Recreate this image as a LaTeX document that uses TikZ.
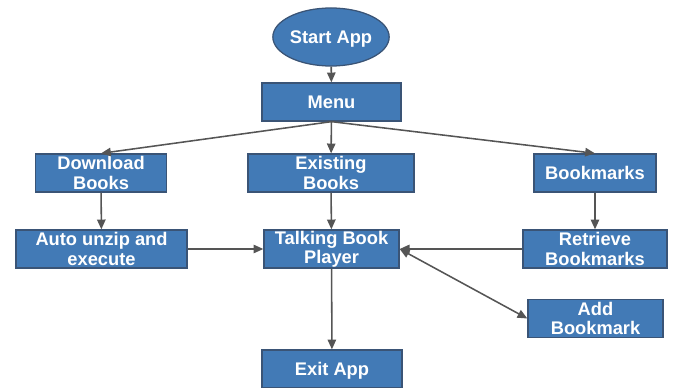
\documentclass[tikz,border=0pt]{standalone}
\usepackage{fontspec}
\setmainfont{Liberation Sans}
\usepackage{tikz}
\usetikzlibrary{shapes.geometric,arrows.meta,positioning}
\definecolor{boxblue}{RGB}{66,122,182}
\definecolor{boxline}{RGB}{58,84,118}
\definecolor{arrowgray}{RGB}{85,85,85}

\begin{document}
\begin{tikzpicture}[
    x=0.025cm, y=-0.025cm,
    box/.style={rectangle, draw=boxline, fill=boxblue, line width=0.9pt, minimum height=0.95cm,
        inner sep=0pt, align=center, text=white, font=\fontsize{13}{13.6}\selectfont\bfseries},
    oneline/.style={text depth=0pt},
    startbox/.style={ellipse, draw=boxline, fill=boxblue, line width=0.9pt, minimum width=2.85cm,
        minimum height=1.45cm, inner sep=0pt, text depth=0pt, text=white, font=\fontsize{13}{13.6}\selectfont\bfseries},
    arrow/.style={-{Triangle[length=7pt,width=6pt]}, draw=arrowgray, line width=1.1pt}
]
    \useasboundingbox (0,0) rectangle (675,387);

    % Top
    \node[startbox] (start) at (331,37) {Start App};
    \node[box, oneline, minimum width=3.475cm] (menu) at (331.5,102) {Menu};

    % Second row
    \node[box, minimum width=3.275cm] (download) at (101,173) {Download\\Books};
    \node[box, minimum width=4.15cm] (existing) at (331,173) {Existing\\Books};
    \node[box, oneline, minimum width=3.05cm] (bookmarks) at (595,173) {Bookmarks};

    % Third row
    \node[box, minimum width=4.275cm] (unzip) at (101.5,249) {Auto unzip and\\execute};
    \node[box, minimum width=3.375cm] (player) at (331.5,249) {Talking Book\\Player};
    \node[box, minimum width=3.6cm] (retrieve) at (595,249) {Retrieve\\Bookmarks};

    % Bottom
    \node[box, minimum width=3.375cm] (addmark) at (595.5,318.5) {Add\\Bookmark};
    \node[box, oneline, minimum width=3.5cm] (exit) at (332,369) {Exit App};

    % Arrows
    \draw[arrow] (start) -- (menu);
    \draw[arrow] (menu.south) -- (download.north);
    \draw[arrow] (menu) -- (existing);
    \draw[arrow] (menu.south) -- (bookmarks.north);
    \draw[arrow] (download) -- (unzip);
    \draw[arrow] (existing) -- (player);
    \draw[arrow] (bookmarks) -- (retrieve);
    \draw[arrow] (unzip) -- (player);
    \draw[arrow] (retrieve) -- (player);
    \draw[arrow, {Triangle[length=7pt,width=6pt]}-{Triangle[length=7pt,width=6pt]}] (player.east) -- (addmark.west);
    \draw[arrow] (player) -- (exit);
\end{tikzpicture}
\end{document}
